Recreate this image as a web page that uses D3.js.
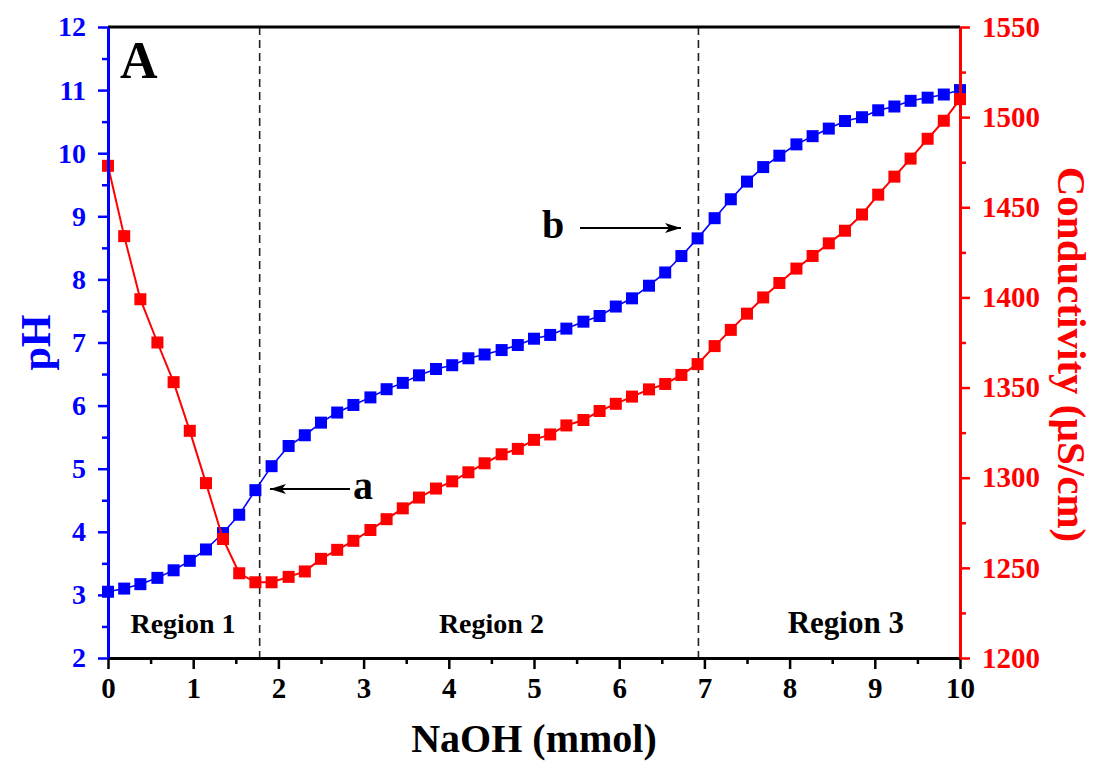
<!DOCTYPE html>
<html>
<head>
<meta charset="utf-8">
<script src="https://cdn.jsdelivr.net/npm/d3@7"></script>
<style>
  body { margin: 0; background: #fff; }
  text { font-family: "Liberation Serif", "Times New Roman", serif; font-weight: bold; }
</style>
</head>
<body>
<div id="chart"></div>
<script>

// NaOH added (mmol), one reading each
var naoh = [0, 0.19, 0.38, 0.58, 0.77, 0.96, 1.15, 1.35, 1.54, 1.73, 1.92, 2.12, 2.31, 2.50, 2.69, 2.88,
  3.08, 3.27, 3.46, 3.65, 3.85, 4.04, 4.23, 4.42, 4.62, 4.81, 5.00, 5.19, 5.38, 5.58, 5.77, 5.96,
  6.15, 6.35, 6.54, 6.73, 6.92, 7.12, 7.31, 7.50, 7.69, 7.88, 8.08, 8.27, 8.46, 8.65, 8.85, 9.04,
  9.23, 9.42, 9.62, 9.81, 10.00];

var ph = [3.05, 3.10, 3.17, 3.27, 3.39, 3.54, 3.72, 3.98, 4.27, 4.66, 5.04, 5.36, 5.53, 5.73, 5.89, 6.01,
  6.13, 6.26, 6.36, 6.48, 6.58, 6.64, 6.75, 6.81, 6.88, 6.96, 7.06, 7.12, 7.22, 7.33, 7.42, 7.57,
  7.70, 7.90, 8.11, 8.37, 8.65, 8.97, 9.27, 9.55, 9.78, 9.96, 10.14, 10.27, 10.39, 10.51, 10.57, 10.68,
  10.74, 10.83, 10.88, 10.93, 11.00];

var conductivity = [1473, 1434, 1399, 1375, 1353, 1326, 1297, 1266, 1247, 1242, 1242, 1245, 1248, 1255, 1260, 1265,
  1271, 1277, 1283, 1289, 1294, 1298, 1303, 1308, 1313, 1316, 1321, 1324, 1329, 1332, 1337, 1341,
  1345, 1349, 1352, 1357, 1363, 1373, 1382, 1391, 1400, 1408, 1416, 1423, 1430, 1437, 1446, 1457,
  1467, 1477, 1488, 1498, 1510];

var xTicks = [0, 1, 2, 3, 4, 5, 6, 7, 8, 9, 10];
var phTicks = [2, 3, 4, 5, 6, 7, 8, 9, 10, 11, 12];
var condTicks = [1200, 1250, 1300, 1350, 1400, 1450, 1500, 1550];

// region boundaries (mmol) and labels
var boundaries = [1.78, 6.93];
var regions = [
  { label: "Region 1", x: 0.88, size: 28 },
  { label: "Region 2", x: 4.5, size: 28 },
  { label: "Region 3", x: 8.66, size: 31 }
];

var width = 1094, height = 762;
var plotL = 108, plotR = 960, plotT = 27, plotB = 658;

var svg = d3.select("#chart").append("svg")
  .attr("width", width)
  .attr("height", height);

var x = d3.scaleLinear().domain([0, 10]).range([plotL, plotR]);
var yPh = d3.scaleLinear().domain([2, 12]).range([plotB, plotT]);
var yCond = d3.scaleLinear().domain([1200, 1550]).range([plotB, plotT]);

// dashed boundaries
svg.selectAll(".bound")
  .data(boundaries)
  .enter()
  .append("line")
  .attr("x1", function(d) { return x(d); })
  .attr("x2", function(d) { return x(d); })
  .attr("y1", plotT)
  .attr("y2", plotB)
  .attr("stroke", "#222")
  .attr("stroke-width", 1.6)
  .attr("stroke-dasharray", "8,5");

// region labels
svg.selectAll(".region")
  .data(regions)
  .enter()
  .append("text")
  .attr("x", function(d) { return x(d.x); })
  .attr("y", 633)
  .attr("text-anchor", "middle")
  .attr("font-size", function(d) { return d.size; })
  .text(function(d) { return d.label; });

var pts = naoh.map(function(d, i) { return { x: d, ph: ph[i], c: conductivity[i] }; });
var ms = 12;

// pH series
svg.append("path")
  .datum(pts)
  .attr("fill", "none")
  .attr("stroke", "#0000ff")
  .attr("stroke-width", 1.6)
  .attr("d", d3.line().x(function(d) { return x(d.x); }).y(function(d) { return yPh(d.ph); }));

svg.selectAll(".phpt")
  .data(pts)
  .enter()
  .append("rect")
  .attr("x", function(d) { return x(d.x) - ms / 2; })
  .attr("y", function(d) { return yPh(d.ph) - ms / 2; })
  .attr("width", ms)
  .attr("height", ms)
  .attr("fill", "#0000ff");

// conductivity series
svg.append("path")
  .datum(pts)
  .attr("fill", "none")
  .attr("stroke", "#ff0000")
  .attr("stroke-width", 2)
  .attr("d", d3.line().x(function(d) { return x(d.x); }).y(function(d) { return yCond(d.c); }));

svg.selectAll(".cpt")
  .data(pts)
  .enter()
  .append("rect")
  .attr("x", function(d) { return x(d.x) - ms / 2; })
  .attr("y", function(d) { return yCond(d.c) - ms / 2; })
  .attr("width", ms)
  .attr("height", ms)
  .attr("fill", "#ff0000");

// top frame
svg.append("line")
  .attr("x1", plotL).attr("x2", plotR)
  .attr("y1", plotT).attr("y2", plotT)
  .attr("stroke", "#000").attr("stroke-width", 3);

// axes
function styleAxis(g, color, size) {
  g.select(".domain").attr("stroke", color).attr("stroke-width", 3);
  g.selectAll(".tick line").attr("stroke", color).attr("stroke-width", 2.5);
  g.selectAll(".tick text").attr("fill", color).attr("font-size", size)
    .attr("font-family", "Liberation Serif, serif").attr("font-weight", "bold");
}

function minorAxis(axis, scale, vals, len, color, transform) {
  var g = svg.append("g").attr("transform", transform)
    .call(axis(scale).tickValues(vals).tickSize(len).tickFormat("").tickSizeOuter(0));
  g.select(".domain").remove();
  g.selectAll(".tick line").attr("stroke", color).attr("stroke-width", 2.5);
}

var xMinor = xTicks.slice(0, -1).map(function(d) { return d + 0.5; });
var phMinor = phTicks.slice(0, -1).map(function(d) { return d + 0.5; });
var condMinor = condTicks.slice(0, -1).map(function(d) { return d + 25; });

minorAxis(d3.axisBottom, x, xMinor, 6, "#000", "translate(0," + plotB + ")");
minorAxis(d3.axisLeft, yPh, phMinor, 6, "#0000ff", "translate(" + plotL + ",0)");
minorAxis(d3.axisRight, yCond, condMinor, 6, "#ff0000", "translate(" + plotR + ",0)");

var xAxis = svg.append("g")
  .attr("transform", "translate(0," + plotB + ")")
  .call(d3.axisBottom(x).tickValues(xTicks).tickSize(11).tickSizeOuter(0).tickPadding(8));
styleAxis(xAxis, "#000", 29);

var yAxisL = svg.append("g")
  .attr("transform", "translate(" + plotL + ",0)")
  .call(d3.axisLeft(yPh).tickValues(phTicks).tickSize(10).tickSizeOuter(0).tickPadding(12));
styleAxis(yAxisL, "#0000ff", 28);

var yAxisR = svg.append("g")
  .attr("transform", "translate(" + plotR + ",0)")
  .call(d3.axisRight(yCond).tickValues(condTicks).tickSize(10).tickSizeOuter(0).tickPadding(12)
    .tickFormat(d3.format("d")));
styleAxis(yAxisR, "#ff0000", 29);

// axis titles
svg.append("text")
  .attr("x", (plotL + plotR) / 2)
  .attr("y", 752)
  .attr("text-anchor", "middle")
  .attr("font-size", 40)
  .text("NaOH (mmol)");

svg.append("text")
  .attr("transform", "translate(50," + ((plotT + plotB) / 2) + ") rotate(-90)")
  .attr("text-anchor", "middle")
  .attr("font-size", 42)
  .attr("fill", "#0000ff")
  .text("pH");

svg.append("text")
  .attr("transform", "translate(1058," + ((plotT + plotB) / 2 + 12) + ") rotate(90)")
  .attr("text-anchor", "middle")
  .attr("font-size", 41)
  .attr("fill", "#ff0000")
  .text("Conductivity (\u00b5S/cm)");

// panel letter
svg.append("text")
  .attr("x", 120)
  .attr("y", 78)
  .attr("font-size", 52)
  .text("A");

// annotations
svg.append("defs").append("marker")
  .attr("id", "arrow")
  .attr("viewBox", "0 0 16 10")
  .attr("refX", 16).attr("refY", 5)
  .attr("markerWidth", 16).attr("markerHeight", 10)
  .attr("markerUnits", "userSpaceOnUse")
  .attr("orient", "auto")
  .append("path")
  .attr("d", "M0,0 L16,5 L0,10 L4,5 Z")
  .attr("fill", "#000");

var notes = [
  { label: "a", tx: 353, ty: 499, from: 350, to: 270, y: 489 },
  { label: "b", tx: 542, ty: 238, from: 580, to: 681, y: 228 }
];

svg.selectAll(".arrowline")
  .data(notes)
  .enter()
  .append("line")
  .attr("x1", function(d) { return d.from; })
  .attr("x2", function(d) { return d.to; })
  .attr("y1", function(d) { return d.y; })
  .attr("y2", function(d) { return d.y; })
  .attr("stroke", "#000")
  .attr("stroke-width", 2)
  .attr("marker-end", "url(#arrow)");

svg.selectAll(".note")
  .data(notes)
  .enter()
  .append("text")
  .attr("x", function(d) { return d.tx; })
  .attr("y", function(d) { return d.ty; })
  .attr("font-size", 40)
  .text(function(d) { return d.label; });

</script>
</body>
</html>
